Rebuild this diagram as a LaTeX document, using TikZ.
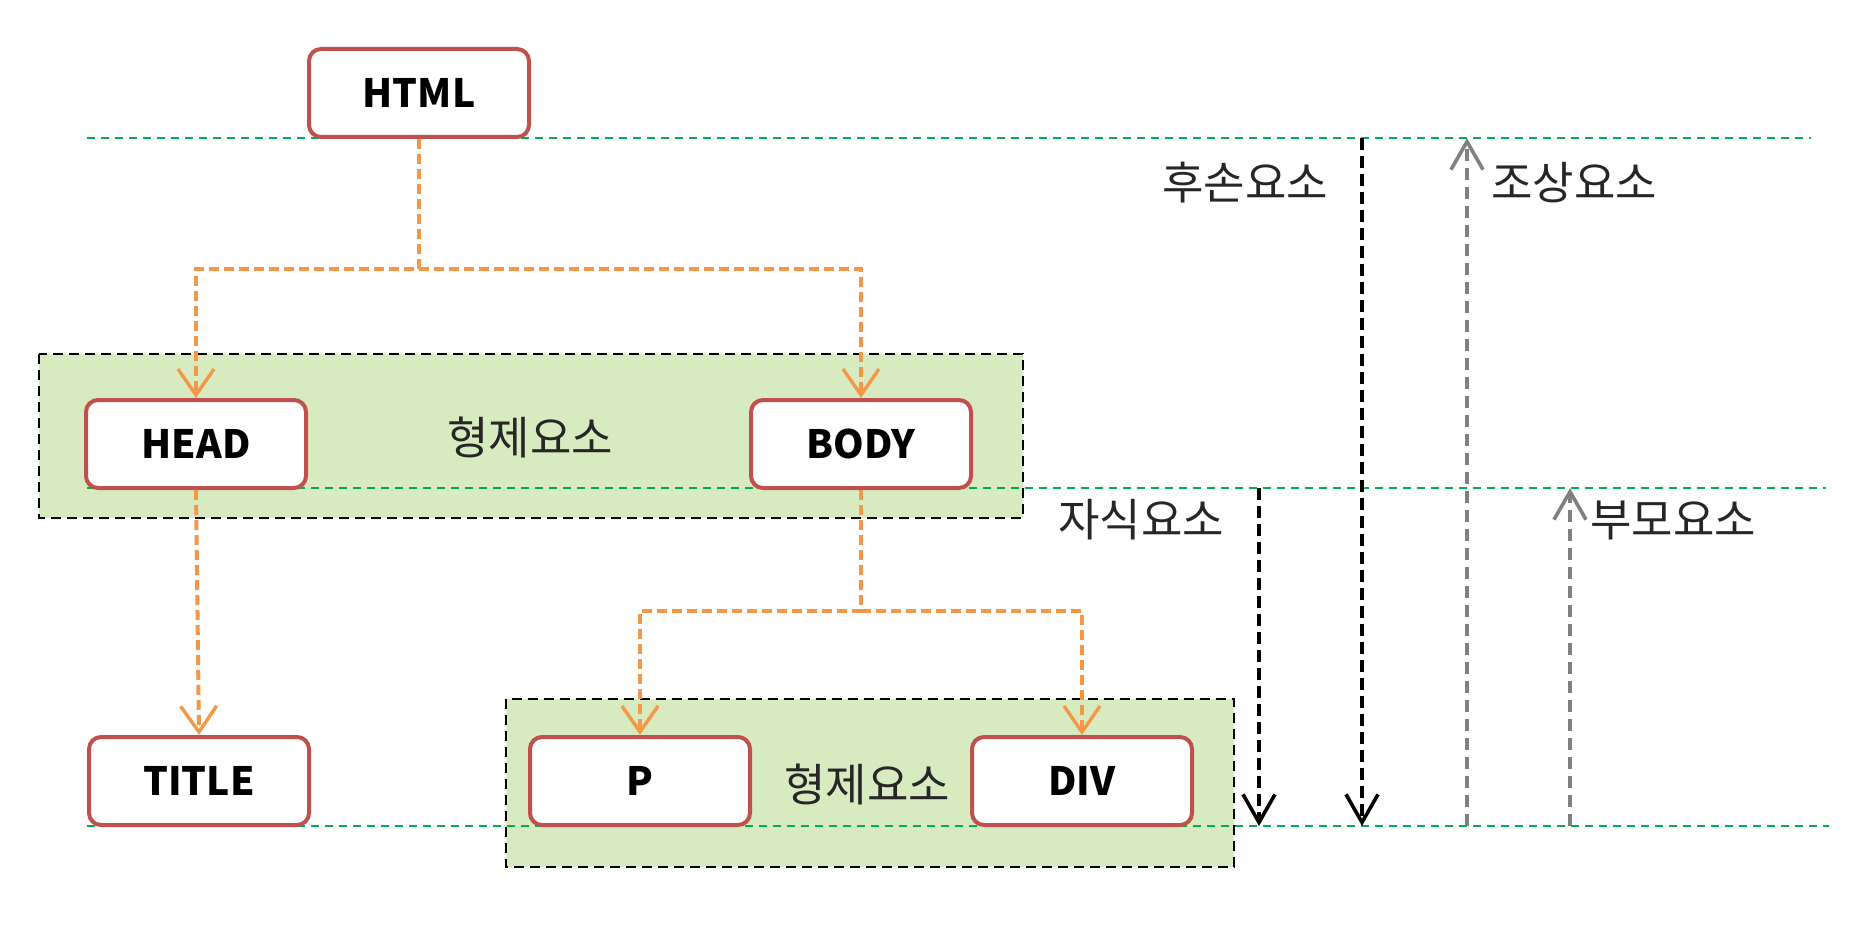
\documentclass[tikz,border=0pt]{standalone}
\usepackage{fontspec}
\setmainfont{Noto Sans CJK KR}
\usetikzlibrary{arrows.meta, positioning}

\definecolor{boxred}{RGB}{192,80,77}
\definecolor{linkorange}{RGB}{244,152,72}
\definecolor{groupgreen}{RGB}{215,234,192}
\definecolor{levelgreen}{RGB}{0,176,80}

\begin{document}
\begin{tikzpicture}[x=0.5pt, y=-0.5pt,
    elem/.style={draw=boxred, line width=2pt, rounded corners=6pt, fill=white,
        minimum width=110pt, minimum height=44pt, inner sep=0pt,
        font=\fontsize{19.5}{22}\selectfont\bfseries},
    group/.style={draw=black, fill=groupgreen, line width=1pt, dash pattern=on 5pt off 3pt},
    level/.style={draw=levelgreen, line width=1pt, dash pattern=on 4pt off 3pt},
    link/.style={draw=linkorange, line width=2pt, dash pattern=on 5pt off 2.5pt,
        -{Straight Barb[length=13pt, width=18pt, line width=1.7pt]}},
    down/.style={draw=black, line width=2pt, dash pattern=on 6pt off 3pt,
        -{Straight Barb[length=14pt, width=16pt, line width=1.8pt]}},
    up/.style={draw=gray, line width=2pt, dash pattern=on 6pt off 3.5pt,
        -{Straight Barb[length=14pt, width=16pt, line width=1.8pt]}},
    tag/.style={font=\fontsize{22.5}{26}\selectfont, text=black!85, inner sep=0pt}
]
\useasboundingbox (0,0) rectangle (1868,952);

% sibling groups
\draw[group] (39,354) rectangle (1023,518);
\draw[group] (506,699) rectangle (1234,867);

% level lines
\coordinate (lvl1w) at (87,138);  \coordinate (lvl1e) at (1811,138);
\coordinate (lvl2w) at (87,488);  \coordinate (lvl2e) at (1826,488);
\coordinate (lvl3w) at (87,826);  \coordinate (lvl3e) at (1829,826);
\draw[level] (lvl1w) -- (lvl1e);
\draw[level] (lvl2w) -- (lvl2e);
\draw[level] (lvl3w) -- (lvl3e);

% elements
\node[elem] (html)  at (419,93)  {HTML};
\node[elem] (head)  at (196,444) {HEAD};
\node[elem] (body)  at (861,444) {BODY};
\node[elem] (title) at (199,781) {TITLE};
\node[elem] (p)     at (640,781) {P};
\node[elem] (div)   at (1082,781) {DIV};

\node[tag] (sib1) at (530,437) {형제요소};
\node[tag] (sib2) at (867,784) {형제요소};

% tree links
\coordinate (split1) at (419,269);
\coordinate (split2) at (861,611);
\draw[link] (html.south) -- (split1) -| (head.north);
\draw[link] (split1) -| (body.north);
\draw[link] (head.south) -- (title.north);
\draw[link] (body.south) -- (split2) -| (p.north);
\draw[link] (split2) -| (div.north);

% relation arrows
\coordinate (childtop) at (1259,488); \coordinate (childend) at (1259,826);
\coordinate (desctop)  at (1362,138); \coordinate (descend)  at (1362,826);
\coordinate (ancbot)   at (1467,826); \coordinate (ancend)   at (1467,138);
\coordinate (parbot)   at (1570,826); \coordinate (parend)   at (1570,488);
\draw[down] (childtop) -- (childend);
\draw[down] (desctop) -- (descend);
\draw[up] (ancbot) -- (ancend);
\draw[up] (parbot) -- (parend);

\node[tag] (child) at (1141,520) {자식요소};
\node[tag] (desc)  at (1245,183) {후손요소};
\node[tag] (anc)   at (1574,183) {조상요소};
\node[tag] (par)   at (1673,520) {부모요소};
\end{tikzpicture}
\end{document}
